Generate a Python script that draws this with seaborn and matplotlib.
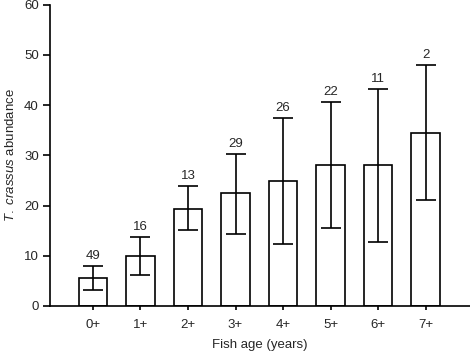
import numpy as np
import pandas as pd
import matplotlib as mpl
mpl.use('Agg')
import matplotlib.pyplot as plt
import seaborn as sns

# values
ages = ['0+', '1+', '2+', '3+', '4+', '5+', '6+', '7+']
abundance = [5.6, 10.0, 19.4, 22.4, 24.9, 28.1, 28.0, 34.5]
err_upper = [8.0, 13.8, 23.9, 30.2, 37.5, 40.6, 43.1, 48.0]
err_lower = [3.2, 6.2, 15.1, 14.4, 12.4, 15.6, 12.7, 21.1]
n_fish = [49, 16, 13, 29, 26, 22, 11, 2]

sns.set_theme(style='ticks')
plt.rcParams['font.family'] = ['Liberation Sans', 'DejaVu Sans']
plt.rcParams['mathtext.fontset'] = 'custom'
plt.rcParams['mathtext.it'] = 'Liberation Sans:italic'
plt.rcParams['mathtext.rm'] = 'Liberation Sans'

fs = 9.5
df = pd.DataFrame({'age': ages, 'abundance': abundance})

fig = plt.figure(figsize=(4.7, 3.52), dpi=100)
ax = fig.add_axes([50 / 470, 46 / 352, 420 / 470, 301.5 / 352])

sns.barplot(data=df, x='age', y='abundance', color='white', edgecolor='black',
            linewidth=1.2, width=0.6, errorbar=None, ax=ax)

# asymmetric error bars
x = np.arange(len(ages))
ab = np.array(abundance)
yerr = [ab - np.array(err_lower), np.array(err_upper) - ab]
ax.errorbar(x, ab, yerr=yerr, fmt='none', ecolor='black', elinewidth=1.2,
            capsize=7, capthick=1.2)

# sample sizes above the caps
for xi, top, n in zip(x, err_upper, n_fish):
    ax.text(xi, top + 0.8, str(n), ha='center', va='bottom', fontsize=fs)

ax.set_ylim(0, 60)
ax.set_xlim(-0.9, 7.93)
ax.set_yticks(range(0, 61, 10))
ax.set_xlabel('Fish age (years)', fontsize=fs, labelpad=6)
ax.set_ylabel(r'$\it{T.\ crassus}$ abundance', fontsize=fs, labelpad=5)
ax.tick_params(axis='both', labelsize=fs, width=1.2, color='black')
ax.tick_params(axis='y', length=5, pad=3)
ax.tick_params(axis='x', length=3, pad=6)
sns.despine(ax=ax)
for s in ['left', 'bottom']:
    ax.spines[s].set_linewidth(1.2)
    ax.spines[s].set_color('black')

fig.savefig('out.png', dpi=100)
